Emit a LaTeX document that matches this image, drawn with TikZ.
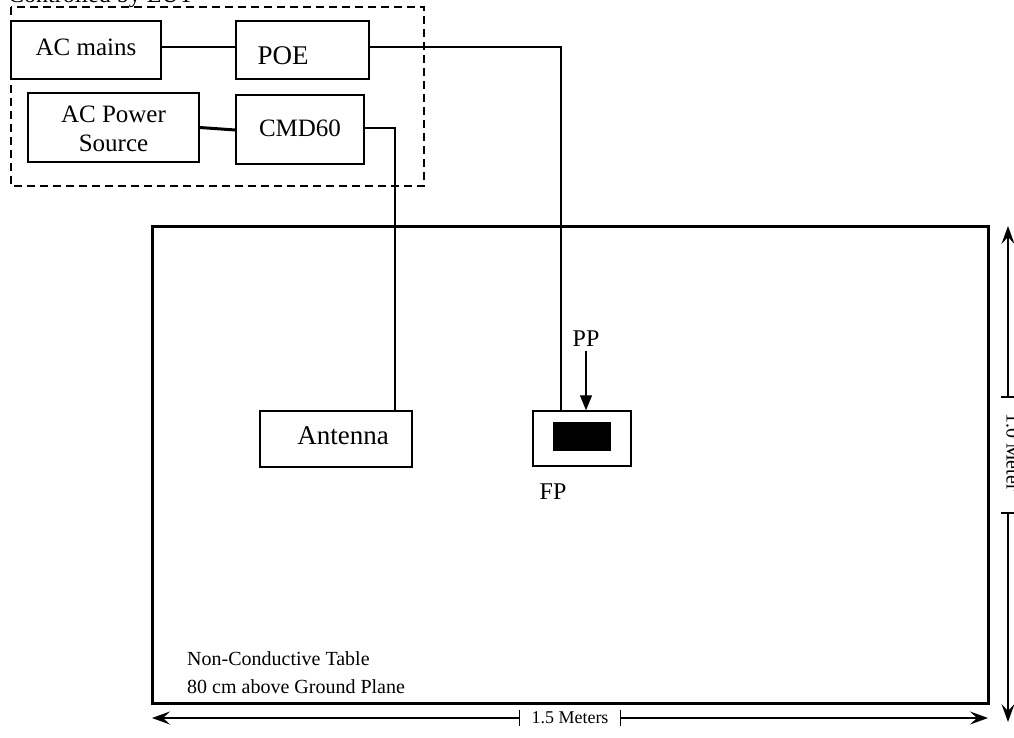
\documentclass[tikz,border=0pt]{standalone}
\usepackage{fontspec}
\setmainfont{Liberation Serif}
\usetikzlibrary{arrows.meta}
\begin{document}
\begin{tikzpicture}[x=1pt,y=-1pt,
  box/.style={draw,line width=1.4pt,inner sep=0pt},
  wire/.style={line width=1.4pt},
  thickwire/.style={line width=3pt},
  lbl/.style={inner sep=0pt,font=\fontsize{25}{29}\selectfont},
  dimlbl/.style={inner sep=0pt,font=\fontsize{18}{20}\selectfont},
  dimarrow/.style={line width=1.4pt,-{Stealth[length=18pt,width=13pt,inset=7pt]}},
  tick/.style={line width=1.2pt}]
\useasboundingbox (0,0) rectangle (1014,738);
% clipped heading at the very top
\node[lbl,anchor=base west,font=\fontsize{24}{28}\selectfont] (head) at (8,2.5) {Controlled by EUT};
% dashed enclosure
\draw[line width=1.6pt,dash pattern=on 8pt off 5pt] (11,7) rectangle (424,186);
% boxes
\node[box,minimum width=150,minimum height=58] (acm) at (86,50) {};
\node[lbl] (acmt) at (86,47) {AC mains};
\node[box,minimum width=133,minimum height=58] (poe) at (302.5,50) {};
\node[lbl,font=\fontsize{27}{30}\selectfont] (poet) at (283,56) {POE};
\node[box,minimum width=171,minimum height=69] (acps) at (113.5,127.5) {};
\node[lbl,align=center] (acpst) at (113.5,129) {AC Power\\Source};
\node[box,minimum width=128,minimum height=69] (cmd) at (300,129.5) {};
\node[lbl] (cmdt) at (300,128) {CMD60};
% table
\draw[line width=3pt] (152,226) rectangle (988,703);
\node[box,minimum width=152,minimum height=56] (ant) at (336,439) {};
\node[lbl,font=\fontsize{27}{30}\selectfont] (antt) at (343,436) {Antenna};
\node[box,minimum width=98,minimum height=55] (fp) at (582,438.5) {};
\node[fill=black,inner sep=0pt,minimum width=58,minimum height=29] (chip) at (582,436.5) {};
\node[lbl,font=\fontsize{24}{28}\selectfont] (ppt) at (586,339) {PP};
\node[lbl,font=\fontsize{24}{28}\selectfont] (fpt) at (553,492) {FP};
\node[lbl,anchor=north west,align=left,font=\fontsize{20}{28}\selectfont] (tablet) at (187,651) {Non-Conductive Table\\80 cm above Ground Plane};
% connectors
\draw[wire] ([yshift=3pt]acm.east) -- ([yshift=3pt]poe.west);
\draw[wire] ([yshift=3pt]poe.east) -| ([xshift=-21pt]fp.north);
\draw[thickwire] (acps.east) -- ([yshift=-0.5pt]cmd.west);
\draw[wire] ([yshift=1.5pt]cmd.east) -| ([xshift=59pt]ant.north);
\draw[line width=1.2pt,-{Triangle[length=15pt,width=12pt]}] ([yshift=-4pt]ppt.south) -- ([xshift=4pt]fp.north);
% bottom dimension
\node[dimlbl,minimum width=100,minimum height=16] (wl) at (570,718) {1.5 Meters};
\coordinate (wa) at (152,718);
\coordinate (wb) at (988,718);
\draw[dimarrow] (wl.west) -- (wa);
\draw[dimarrow] (wl.east) -- (wb);
\draw[tick] ([yshift=8pt]wl.west) -- ([yshift=-8pt]wl.west);
\draw[tick] ([yshift=8pt]wl.east) -- ([yshift=-8pt]wl.east);
% right dimension
\node[dimlbl,rotate=-90,minimum width=116,minimum height=16,font=\fontsize{20}{22}\selectfont] (hl) at (1013,452) {1.0 Meter};
\coordinate (ha) at (1008,226);
\coordinate (hb) at (1008,722);
\draw[dimarrow] (1008,397) -- (ha);
\draw[dimarrow] (1008,513) -- (hb);
\draw[tick] (1001,397) -- (1015,397);
\draw[tick] (1001,513) -- (1015,513);
\end{tikzpicture}
\end{document}
